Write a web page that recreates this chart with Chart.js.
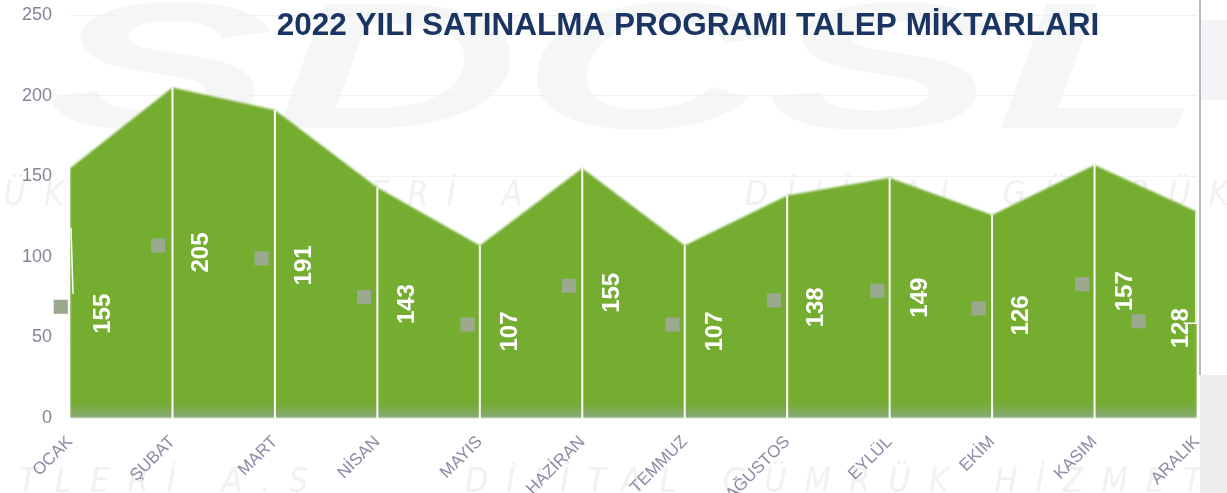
<!DOCTYPE html>
<html lang="tr">
<head>
<meta charset="utf-8">
<title>2022 Yılı Satınalma Programı Talep Miktarları</title>
<script src="https://cdn.jsdelivr.net/npm/chart.js@4/dist/chart.umd.min.js"></script>
<style>
  html, body { margin: 0; padding: 0; background: #ffffff; }
  #wrap { width: 1227px; height: 493px; position: relative; }
  canvas { display: block; }
</style>
</head>
<body>
<div id="wrap"><canvas id="chart" width="1227" height="493"></canvas></div>
<script>
// Months of the year (x axis)
const months = ['OCAK', 'ŞUBAT', 'MART', 'NİSAN', 'MAYIS', 'HAZİRAN', 'TEMMUZ', 'AĞUSTOS', 'EYLÜL', 'EKİM', 'KASIM', 'ARALIK'];
// Requested quantities per month
const demand = [155, 205, 191, 143, 107, 155, 107, 138, 149, 126, 157, 128];
// Label key markers: horizontal position (in month units) and level
const markerPos = [-0.09, 0.86, 1.87, 2.87, 3.88, 4.87, 5.88, 6.87, 7.88, 8.87, 9.88, 10.43];
const markerLevel = [69, 107, 99, 75, 58, 82, 58, 73, 79, 68, 83, 60];
// Y axis ticks
const yTicks = [0, 50, 100, 150, 200, 250];

const titleText = '2022 YILI SATINALMA PROGRAMI TALEP MİKTARLARI';
const watermarkBig = 'SDCSL';
const watermarkLine = 'DİJİTAL GÜMRÜK HİZMETLERİ A.Ş';

const areaPoints = months.map((m, i) => ({ x: i, y: demand[i] }));
const markerPoints = markerPos.map((p, i) => ({ x: p, y: markerLevel[i] }));

// Faint background lettering and the frame at the right edge
const backdrop = {
  id: 'backdrop',
  beforeDraw(chart) {
    const ctx = chart.ctx;
    ctx.save();
    ctx.fillStyle = '#f5f7f7';
    ctx.font = 'italic bold 180px "Liberation Sans", Arial, sans-serif';
    ctx.textBaseline = 'alphabetic';
    ctx.translate(45, 128);
    ctx.scale(1.9, 1);
    ctx.fillText(watermarkBig, 0, 0);
    ctx.restore();

    ctx.save();
    ctx.fillStyle = '#f1f1f1';
    ctx.font = 'italic 34px "DejaVu Sans Condensed", "DejaVu Sans", sans-serif';
    ctx.letterSpacing = '18px';
    const rowText = (watermarkLine + '     ').repeat(3);
    ctx.fillText(rowText, -420, 205);
    ctx.fillText(rowText, -700, 492);
    ctx.restore();

    ctx.save();
    ctx.fillStyle = '#ececef';
    ctx.fillRect(1200, 375, 27, 118);
    ctx.fillStyle = '#f5f5f7';
    ctx.fillRect(1201, 20, 26, 80);
    ctx.strokeStyle = '#b9b9c1';
    ctx.lineWidth = 2;
    ctx.beginPath();
    ctx.moveTo(1200, 0);
    ctx.lineTo(1200, 375);
    ctx.stroke();
    ctx.restore();
  }
};

// Soft edge for the area, white month dividers, value labels and title
const decorations = {
  id: 'decorations',
  beforeDatasetsDraw(chart) {
    chart.ctx.save();
    chart.ctx.filter = 'blur(1.2px)';
  },
  afterDatasetDraw(chart, args) {
    if (args.index !== 0) return;
    const ctx = chart.ctx;
    ctx.restore();
    const pts = chart.getDatasetMeta(0).data;
    const base = chart.scales.y.getPixelForValue(0);
    ctx.save();
    ctx.strokeStyle = '#ffffff';
    ctx.lineWidth = 2;
    for (let i = 1; i < pts.length - 1; i++) {
      ctx.beginPath();
      ctx.moveTo(pts[i].x, pts[i].y);
      ctx.lineTo(pts[i].x, base);
      ctx.stroke();
    }
    ctx.restore();
  },
  afterDatasetsDraw(chart) {
    const ctx = chart.ctx;
    const area = chart.getDatasetMeta(0).data;
    const keys = chart.getDatasetMeta(1).data;
    ctx.save();
    ctx.font = 'bold 24px "Liberation Sans", Arial, sans-serif';
    ctx.fillStyle = '#ffffff';
    ctx.textAlign = 'center';
    ctx.textBaseline = 'middle';
    const lx = [], ly = [];
    keys.forEach((k, i) => {
      const x = k.x + 42, y = k.y + 7;
      lx.push(x); ly.push(y);
      ctx.save();
      ctx.translate(x, y);
      ctx.rotate(-Math.PI / 2);
      ctx.fillText(String(demand[i]), 0, 1);
      ctx.restore();
    });
    // leader lines for the first and last month
    const half = ctx.measureText('000').width / 2;
    ctx.strokeStyle = '#ffffff';
    ctx.lineWidth = 1.5;
    ctx.beginPath();
    ctx.moveTo(area[0].x + 1, area[0].y + 60);
    ctx.lineTo(area[0].x + 3, ly[0] - half);
    ctx.stroke();
    const last = area.length - 1;
    ctx.beginPath();
    ctx.moveTo(area[last].x - 1, area[last].y);
    ctx.lineTo(area[last].x - 1, ly[last] - 5);
    ctx.lineTo(lx[last] + 3, ly[last] - 5);
    ctx.stroke();
    ctx.restore();
  },
  afterDraw(chart) {
    const ctx = chart.ctx;
    ctx.save();
    ctx.font = 'bold 31.5px "Liberation Sans", Arial, sans-serif';
    ctx.fillStyle = '#1b3563';
    ctx.textAlign = 'center';
    ctx.textBaseline = 'alphabetic';
    ctx.fillText(titleText, 688, 35);
    ctx.restore();
  }
};

new Chart(document.getElementById('chart'), {
  type: 'line',
  data: {
    datasets: [
      {
        data: areaPoints,
        order: 2,
        fill: 'origin',
        backgroundColor(context) {
          const a = context.chart.chartArea;
          if (!a) return '#74ad30';
          const g = context.chart.ctx.createLinearGradient(0, a.top, 0, a.bottom);
          g.addColorStop(0, '#74ad30');
          g.addColorStop(0.96, '#74ad30');
          g.addColorStop(1, '#88a874');
          return g;
        },
        borderColor: 'rgba(0,0,0,0)',
        borderWidth: 0,
        pointRadius: 0,
        tension: 0,
        clip: false
      },
      {
        data: markerPoints,
        order: 1,
        showLine: false,
        pointStyle: 'rect',
        pointRadius: 10,
        pointBackgroundColor: '#9ba98e',
        pointBorderWidth: 0,
        clip: false
      }
    ]
  },
  options: {
    responsive: false,
    animation: false,
    devicePixelRatio: 1,
    layout: { autoPadding: false, padding: { top: 15, right: 30, left: 0, bottom: 0 } },
    plugins: {
      legend: { display: false },
      tooltip: { enabled: false },
      title: { display: false }
    },
    scales: {
      x: {
        type: 'linear',
        min: 0,
        max: months.length - 1,
        grid: { display: false },
        border: { display: false },
        afterBuildTicks(scale) {
          scale.ticks = months.map((m, i) => ({ value: i }));
        },
        ticks: {
          autoSkip: false,
          minRotation: 45,
          maxRotation: 45,
          padding: 6,
          color: '#8c8ca6',
          font: { family: '"Liberation Sans", Arial, sans-serif', size: 17 },
          callback: (v) => months[v]
        },
        afterFit(scale) {
          scale.height = 75;
          scale.paddingLeft = 0;
          scale.paddingRight = 0;
        }
      },
      y: {
        min: 0,
        max: 250,
        afterBuildTicks(scale) {
          scale.ticks = yTicks.map(v => ({ value: v }));
        },
        grid: { color: '#f1f1f1', drawTicks: false },
        border: { display: false },
        ticks: {
          padding: 18,
          color: '#858598',
          font: { family: '"Liberation Sans", Arial, sans-serif', size: 18 }
        },
        afterFit(scale) {
          scale.width = 70;
          scale.paddingTop = 0;
          scale.paddingBottom = 0;
        }
      }
    }
  },
  plugins: [backdrop, decorations]
});
</script>
</body>
</html>
